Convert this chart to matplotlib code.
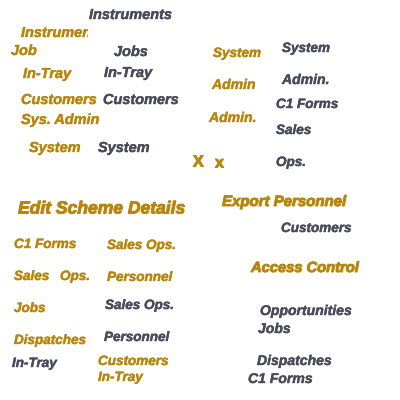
import matplotlib
matplotlib.use("Agg")
import matplotlib.pyplot as plt
import matplotlib.patheffects as pe
from matplotlib.patches import Rectangle

GOLD = "#b8860b"
DARK = "#4a4a5c"

# word, left x (px), centre y (px), colour key, size (px)
words = [
    "Instruments", "Instruments", "Job", "Jobs", "In-Tray", "In-Tray",
    "Customers", "Customers", "Sys. Admin", "System", "System",
    "X", "x",
    "System", "System", "Admin", "Admin.", "Admin.", "C1 Forms", "Sales", "Ops.",
    "Edit Scheme Details",
    "C1 Forms", "Sales Ops.", "Sales", "Ops.", "Personnel", "Jobs", "Sales Ops.",
    "Dispatches", "Personnel", "In-Tray", "Customers", "In-Tray",
    "Export Personnel", "Customers", "Access Control",
    "Opportunities", "Jobs", "Dispatches", "C1 Forms",
]
xs = [89, 21, 11, 114, 23, 104,
      21, 103, 21, 29, 98,
      193, 215,
      213, 282, 212, 282, 209, 276, 276, 276,
      18,
      14, 107, 14, 60, 107, 14, 105,
      14, 104, 12, 98, 98,
      222, 281, 251,
      260, 258, 257, 248]
ys = [14, 32, 50, 51, 73, 72,
      99, 99, 119, 147, 147,
      161, 162,
      52, 47, 84, 79, 117, 103, 129, 161,
      208,
      243, 244, 275, 275, 276, 307, 304,
      339, 336, 362, 360, 376,
      201, 227, 267,
      310, 328, 360, 378]
tones = ["d", "g", "g", "d", "g", "d",
         "g", "d", "g", "g", "d",
         "g", "g",
         "g", "d", "g", "d", "g", "d", "d", "d",
         "g",
         "g", "g", "g", "g", "g", "g", "d",
         "g", "d", "d", "g", "g",
         "g", "d", "g",
         "d", "d", "d", "d"]
sizes = [14.5, 14.5, 14.5, 14.5, 14.5, 14.5,
         14.5, 14.5, 14.5, 14.5, 14.5,
         16, 16,
         13.5, 13.5, 14, 14, 14, 13.5, 13.5, 13.5,
         17.5,
         13.5, 13.5, 13.5, 13.5, 13.5, 13.5, 13.5,
         13.5, 13.5, 13.5, 13.5, 13.5,
         15, 13.5, 14.7,
         14, 14, 14, 14]
# right-hand clip edge for the two cut-off words
clips = {1: 88, 8: 100}
heavy = {11, 12, 21, 34, 36}

fig = plt.figure(figsize=(4, 4), dpi=100)
ax = fig.add_axes([0, 0, 1, 1])
ax.set_xlim(0, 400)
ax.set_ylim(400, 0)
ax.axis("off")

for i, word in enumerate(words):
    upright = word in ("X", "x")
    col = GOLD if tones[i] == "g" else DARK
    t = ax.text(xs[i], ys[i] + 1, word,
                color=col,
                fontsize=sizes[i] * 0.72,
                fontfamily="Liberation Sans",
                fontweight="bold",
                fontstyle="normal" if upright else "italic",
                ha="left", va="center")
    lw = 0.7 if i in heavy else 0.3
    t.set_path_effects([pe.withStroke(linewidth=lw, foreground=col)])
    if i in clips:
        box = Rectangle((0, 0), clips[i], 400, transform=ax.transData)
        t.set_clip_path(box)
        t.set_clip_on(True)

fig.savefig("out.png", dpi=100)
